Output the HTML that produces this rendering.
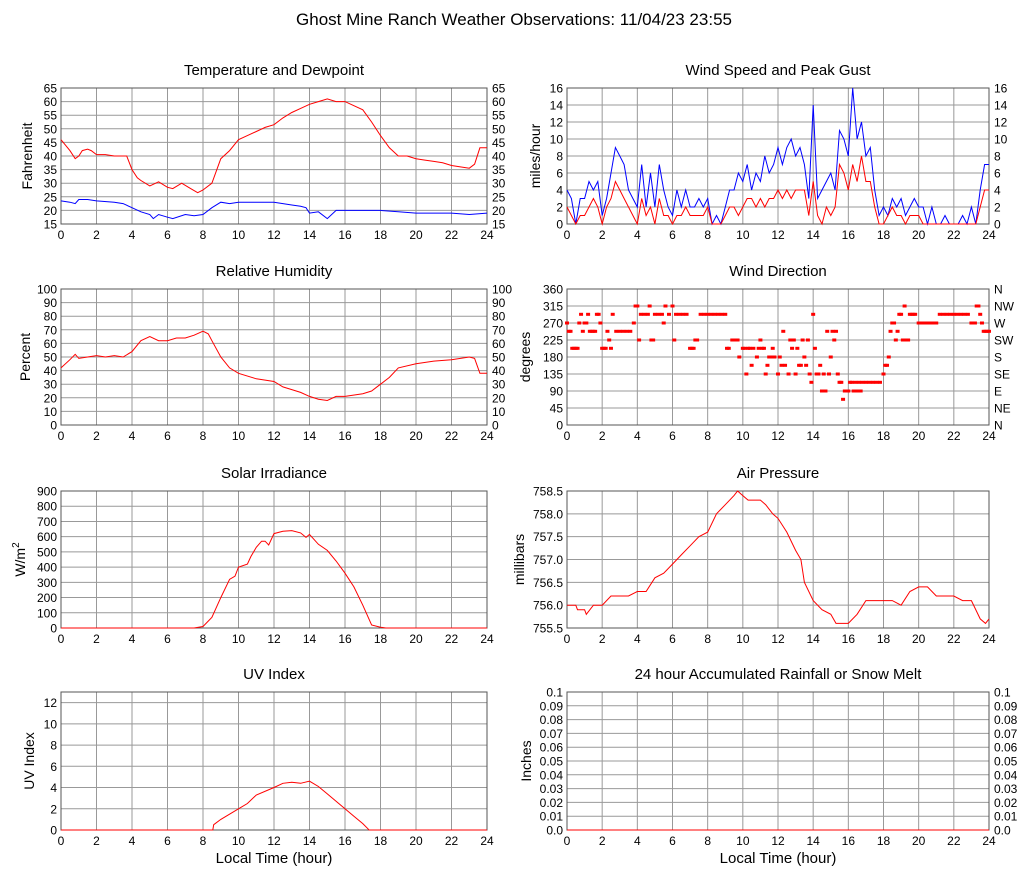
<!DOCTYPE html>
<html><head><meta charset="utf-8"><style>
html,body{margin:0;padding:0;background:#fff;}
svg{display:block;font-family:"Liberation Sans",sans-serif;}
</style></head><body>
<svg id="c" width="1027" height="878" viewBox="0 0 1027 878" xmlns="http://www.w3.org/2000/svg">
<text x="514" y="25" font-size="17" text-anchor="middle" fill="#000">Ghost Mine Ranch Weather Observations: 11/04/23 23:55</text>
</svg>
<script>
// ---- data ----
const tempHours=[0,0.5,0.8,1,1.2,1.5,1.7,2,2.5,3,3.5,3.7,4,4.3,4.5,5,5.5,6,6.3,6.8,7.3,7.7,8,8.5,9,9.5,10,10.5,11,11.5,12,12.5,13,13.5,14,14.5,15,15.5,16,16.5,17,17.5,18,18.5,19,19.5,20,20.5,21,21.5,22,22.5,23,23.3,23.6,24];
const tempVals=[46,42,39,40,42,42.5,42,40.5,40.5,40,40,40,35,32,31,29,30.5,28.5,28,30,28,26.5,27.5,30,39,42,46,47.5,49,50.5,51.5,54,56,57.5,59,60,61,60,60,58.5,57,52.5,47.5,43,40,40,39,38.5,38,37.5,36.5,36,35.5,37,43,43];
const dewHours=[0,0.5,0.8,1,1.5,2,3,3.5,4,4.5,5,5.2,5.5,6,6.3,7,7.5,8,8.5,9,9.5,10,11,12,12.5,13,13.5,13.8,14,14.5,15,15.5,16,17,18,19,20,21,22,23,24];
const dewVals=[23.5,23,22.5,24,24,23.5,23,22.5,21,19.5,18.5,17,18.5,17.5,17,18.5,18,18.5,21,23,22.5,23,23,23,22.5,22,21.5,21,19,19.5,17,20,20,20,20,19.5,19,19,19,18.5,19];
const rhHours=[0,0.5,0.8,1,1.5,2,2.5,3,3.5,4,4.5,5,5.5,6,6.5,7,7.5,8,8.3,8.5,9,9.5,10,11,12,12.5,13,13.5,14,14.5,15,15.5,16,17,17.5,18,18.5,19,20,21,22,23,23.3,23.6,24];
const rhVals=[42,48,52,49,50,51,50,51,50,54,62,65,62,62,64,64,66,69,67,62,50,42,38,34,32,28,26,24,21,19,18,21,21,23,25,30,35,42,45,47,48,50,49,38,38];
const solarHours=[0,7.5,8,8.5,9,9.5,9.8,10,10.5,10.7,11,11.3,11.5,11.7,12,12.5,13,13.5,13.8,14,14.5,15,15.5,16,16.5,17,17.5,18,18.3,24];
const solarVals=[0,0,10,70,200,320,340,400,420,470,530,570,570,545,620,635,640,625,595,615,550,510,440,360,270,150,20,5,0,0];
const uvHours=[0,8.55,8.6,9,10,10.5,11,12,12.5,13,13.5,14,14.5,15,16,16.5,17,17.3,17.35,24];
const uvVals=[0,0,0.5,1,2,2.5,3.3,4,4.4,4.5,4.4,4.6,4.1,3.4,2,1.3,0.6,0.1,0,0];
const presHours=[0,0.5,0.6,1,1.1,1.5,2,2.5,3,3.5,4,4.5,5,5.5,6,6.5,7,7.5,8,8.5,9,9.5,9.7,10,10.3,11,11.3,11.7,12,12.5,13,13.3,13.5,14,14.5,15,15.3,16,16.5,17,18,18.5,19,19.5,20,20.5,21,21.5,22,22.5,23,23.5,23.8,24];
const presVals=[756.0,756.0,755.9,755.9,755.8,756.0,756.0,756.2,756.2,756.2,756.3,756.3,756.6,756.7,756.9,757.1,757.3,757.5,757.6,758.0,758.2,758.4,758.5,758.4,758.3,758.3,758.2,758.0,757.9,757.6,757.2,757.0,756.5,756.1,755.9,755.8,755.6,755.6,755.8,756.1,756.1,756.1,756.0,756.3,756.4,756.4,756.2,756.2,756.2,756.1,756.1,755.7,755.6,755.7];
const windStep=0.25;
const gustVals=[4,3,0,3,3,5,4,5,1,3,6,9,8,7,4,3,2,7,2,6,2,7,4,2,1,4,2,4,2,2,3,2,3,0,1,0,2,4,4,6,5,7,4,6,5,8,6,7,9,7,9,10,8,9,7,3,14,3,4,5,6,4,11,10,8,16,10,12,8,9,4,1,2,1,3,2,3,1,2,3,2,2,0,2,0,0,1,0,0,0,1,0,2,0,4,7,7];
const speedVals=[2,1,0,1,1,2,3,2,0,2,3,5,4,3,2,1,0,3,1,2,0,3,1,1,0,1,1,2,1,1,1,1,2,0,0,0,1,2,2,1,2,3,3,2,3,2,3,3,4,3,4,3,4,4,4,1,5,1,0,2,1,2,7,6,4,7,5,8,5,5,2,0,0,1,2,1,1,0,1,1,1,0,0,0,0,0,0,0,0,0,0,0,0,0,2,4,4];
const dirHours=[
0,0.1,0.2,0.3,0.4,0.5,0.6,0.7,0.8,0.9,
1.0,1.1,1.2,1.3,1.4,1.5,1.6,1.7,1.8,1.9,
2.0,2.1,2.2,2.3,2.4,2.5,2.6,2.8,
3.0,3.2,3.4,3.6,3.8,3.9,
4.0,4.1,4.2,4.4,4.6,4.7,4.8,4.9,
5.0,5.2,5.4,5.5,5.6,5.8,
6.0,6.1,6.2,6.4,6.6,6.8,
7.0,7.1,7.2,7.3,7.4,7.6,7.8,
8.0,8.2,8.4,8.6,8.8,
9.0,9.1,9.2,9.4,9.6,9.7,9.8,
10.0,10.1,10.2,10.3,10.4,10.5,10.6,10.8,10.9,
11.0,11.1,11.2,11.3,11.4,11.5,11.6,11.7,11.8,
12.0,12.1,12.2,12.3,12.4,12.6,12.7,12.8,12.9,
13.0,13.1,13.2,13.3,13.4,13.5,13.6,13.7,13.8,13.9,
14.0,14.1,14.2,14.3,14.4,14.5,14.6,14.7,14.8,14.9,
15.0,15.1,15.2,15.3,15.4,15.5,15.6,15.7,15.8,15.9,
16.0,16.1,16.2,16.3,16.4,16.5,16.6,16.7,16.8,
17.0,17.2,17.4,17.6,17.8,
18.0,18.1,18.2,18.3,18.4,18.5,18.6,18.7,18.8,18.9,
19.0,19.1,19.2,19.3,19.4,19.5,19.6,19.7,19.8,
20.0,20.2,20.4,20.6,20.8,
21.0,21.2,21.4,21.6,21.8,
22.0,22.2,22.4,22.6,22.8,
23.0,23.1,23.2,23.3,23.4,23.5,23.6,23.7,23.8,23.9,24.0];
const dirVals=[
270,248,248,203,203,203,203,270,293,248,
270,270,293,248,248,248,248,293,293,270,
203,203,203,248,225,203,293,248,
248,248,248,248,270,315,
315,225,293,293,293,315,225,225,
293,293,293,270,315,293,
315,225,293,293,293,293,
203,203,203,225,225,293,293,
293,293,293,293,293,
293,203,203,225,225,225,180,
203,203,135,203,203,158,203,180,203,
225,203,203,135,158,180,180,203,180,
135,180,158,248,158,135,225,203,225,
135,203,158,158,225,180,158,225,135,113,
293,203,135,135,158,90,135,90,248,135,
180,248,225,248,135,113,113,68,90,90,
90,113,113,90,113,90,113,90,113,
113,113,113,113,113,
135,158,158,180,248,270,270,225,248,293,
293,225,315,225,225,293,293,293,293,
270,270,270,270,270,
270,293,293,293,293,
293,293,293,293,293,
270,270,270,315,315,293,270,248,248,248,248];
const tempTicks=[15,20,25,30,35,40,45,50,55,60,65];
const rhTicks=[0,10,20,30,40,50,60,70,80,90,100];
const solarTicks=[0,100,200,300,400,500,600,700,800,900];
const uvTicks=[0,2,4,6,8,10,12];
const windTicks=[0,2,4,6,8,10,12,14,16];
const dirTicks=[0,45,90,135,180,225,270,315,360];
const dirNames=["N","NE","E","SE","S","SW","W","NW","N"];
const presTicks=[755.5,756.0,756.5,757.0,757.5,758.0,758.5];
const rainTicks=[0,0.01,0.02,0.03,0.04,0.05,0.06,0.07,0.08,0.09,0.1];
const rainLabels=["0.0","0.01","0.02","0.03","0.04","0.05","0.06","0.07","0.08","0.09","0.1"];
const xTicks=[0,2,4,6,8,10,12,14,16,18,20,22,24];

// ---- drawing ----
const NS="http://www.w3.org/2000/svg";
const svg=document.getElementById('c');
function mk(tag,attrs,parent){const e=document.createElementNS(NS,tag);for(const k in attrs)e.setAttribute(k,attrs[k]);(parent||svg).appendChild(e);return e;}
function txt(s,attrs,parent){const e=mk('text',attrs,parent);e.textContent=s;return e;}

function panel(o){
  const g=mk('g',{});
  
  
  const L=o.x0,R=o.x1,T=o.y0,B=o.y1;
  const xs=h=>L+(R-L)*h/24;
  const ys=v=>B-(B-T)*(v-o.min)/(o.max-o.min);
  o.xs=xs;o.ys=ys;
  const t=txt(o.title,{x:(L+R)/2,y:T-13,'font-size':15,'text-anchor':'middle',fill:'#000'},g);
  
  
  xTicks.forEach(h=>{const l=mk('line',{x1:xs(h),x2:xs(h),y1:T,y2:B,stroke:'#999','stroke-width':1},g);
    
    
    const lb=txt(String(h),{x:xs(h),y:B+15,'font-size':12,'text-anchor':'middle',fill:'#000'},g);
    
    });
  o.ticks.forEach((v,i)=>{const y=ys(v);
    const l=mk('line',{x1:L,x2:R,y1:y,y2:y,stroke:'#999','stroke-width':1},g);
    
    
    const s=o.labels?o.labels[i]:(o.fmt?o.fmt(v):String(v));
    const lb=txt(s,{x:L-4,y:y+4.5,'font-size':12,'text-anchor':'end',fill:'#000'},g);
    
    
    if(o.right){const s2=o.rightLabels?o.rightLabels[i]:s;
      const rb=txt(s2,{x:R+5,y:y+4.5,'font-size':12,'text-anchor':'start',fill:'#000'},g);
      
      }
  });
  const bd=mk('rect',{x:L,y:T,width:R-L,height:B-T,fill:'none',stroke:'#555','stroke-width':1},g);
  
  
  const ax=L-o.labelOff;const ay=(T+B)/2;
  const yl=txt(o.ylabel,{x:ax,y:ay,'font-size':14,'text-anchor':'middle',fill:'#000',transform:`rotate(-90 ${ax} ${ay})`},g);
  
  
  if(o.sup){const ts=mk('tspan',{dy:-6,'font-size':10},yl);ts.textContent=o.sup;}
  if(o.xlabel){const xl=txt('Local Time (hour)',{x:(L+R)/2,y:B+33,'font-size':15,'text-anchor':'middle',fill:'#000'},g);
    
    }
  o.g=g;return o;
}
function line(p,hours,vals,color,name){
  const n=Math.min(hours.length,vals.length);
  const d=vals.slice(0,n).map((v,i)=>(i?'L':'M')+p.xs(hours[i]).toFixed(1)+' '+p.ys(v).toFixed(1)).join(' ');
  const e=mk('path',{d:d,fill:'none',stroke:color,'stroke-width':1},p.g);
  
  
}
const LX0=61,LX1=487,RX0=567,RX1=989;
const p1=panel({name:'temperature',title:'Temperature and Dewpoint',x0:LX0,x1:LX1,y0:88,y1:224,min:15,max:65,ticks:tempTicks,right:true,ylabel:'Fahrenheit',labelOff:29});
line(p1,dewHours,dewVals,'#0000ff','dewpoint-line');
line(p1,tempHours,tempVals,'#ff0000','temperature-line');
const p2=panel({name:'wind-speed',title:'Wind Speed and Peak Gust',x0:RX0,x1:RX1,y0:88,y1:224,min:0,max:16,ticks:windTicks,right:true,ylabel:'miles/hour',labelOff:27});
const wh=gustVals.map((v,i)=>i*windStep);
line(p2,wh,gustVals,'#0000ff','gust-line');
line(p2,wh,speedVals,'#ff0000','wind-speed-line');
const p3=panel({name:'humidity',title:'Relative Humidity',x0:LX0,x1:LX1,y0:289,y1:425,min:0,max:100,ticks:rhTicks,right:true,ylabel:'Percent',labelOff:31});
line(p3,rhHours,rhVals,'#ff0000','humidity-line');
const p4=panel({name:'wind-direction',title:'Wind Direction',x0:RX0,x1:RX1,y0:289,y1:425,min:0,max:360,ticks:dirTicks,right:true,rightLabels:dirNames,ylabel:'degrees',labelOff:37});
dirVals.forEach((v,i)=>{ if(dirHours[i]===undefined) return;
  const r=mk('rect',{x:p4.xs(dirHours[i])-2,y:p4.ys(v)-1.5,width:4,height:3,fill:'#ff0000'},p4.g);
  
  });
const p5=panel({name:'solar',title:'Solar Irradiance',x0:LX0,x1:LX1,y0:491,y1:628,min:0,max:900,ticks:solarTicks,ylabel:'W/m',sup:'2',labelOff:36});
line(p5,solarHours,solarVals,'#ff0000','solar-line');
const p6=panel({name:'pressure',title:'Air Pressure',x0:RX0,x1:RX1,y0:491,y1:628,min:755.5,max:758.5,ticks:presTicks,fmt:v=>v.toFixed(1),ylabel:'millibars',labelOff:43});
line(p6,presHours,presVals,'#ff0000','pressure-line');
const p7=panel({name:'uv',title:'UV Index',x0:LX0,x1:LX1,y0:692,y1:830,min:0,max:13,ticks:uvTicks,ylabel:'UV Index',labelOff:27,xlabel:true});
line(p7,uvHours,uvVals,'#ff0000','uv-line');
const p8=panel({name:'rainfall',title:'24 hour Accumulated Rainfall or Snow Melt',x0:RX0,x1:RX1,y0:692,y1:830,min:0,max:0.1,ticks:rainTicks,labels:rainLabels,right:true,ylabel:'Inches',labelOff:36,xlabel:true});
line(p8,[0,24],[0,0],'#ff0000','rainfall-line');
</script>
</body></html>
